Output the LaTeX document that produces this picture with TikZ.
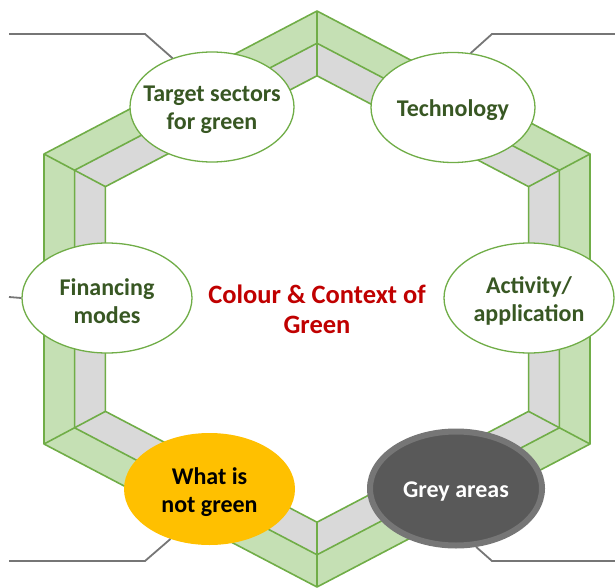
\documentclass[tikz,border=0pt]{standalone}
\usepackage{fontspec}
\setmainfont{Carlito}
\usetikzlibrary{shapes.geometric}
\definecolor{hxgreen}{RGB}{112,173,71}
\definecolor{hxlight}{RGB}{197,224,180}
\definecolor{hxgrey}{RGB}{217,217,217}
\definecolor{hxdark}{RGB}{56,87,35}
\definecolor{hxred}{RGB}{192,0,0}
\definecolor{hxyellow}{RGB}{255,192,0}
\definecolor{hxslate}{RGB}{89,89,89}
\definecolor{hxline}{RGB}{118,118,118}
\begin{document}
\begin{tikzpicture}[x=1pt, y=-1pt,
  edge/.style={hxgreen, line width=1.6pt, line join=round},
  conn/.style={hxline, line width=1.8pt},
  oval/.style={ellipse, draw=hxgreen, fill=white, line width=1.3pt,
    minimum width=164pt, minimum height=110pt},
  lbl/.style={font=\fontsize{24}{28}\selectfont\bfseries, align=center, text=hxdark, yshift=-3pt}]
\useasboundingbox (0,0) rectangle (615,588);
% Hexagon frame: outer, middle and inner rings
\foreach \s/\hx in {1/o, 0.888/m, 0.775/i} {
  \coordinate (\hx1) at (317, {299-288*\s});
  \coordinate (\hx2) at ({317+273*\s}, {299-145*\s});
  \coordinate (\hx3) at ({317+273*\s}, {299+145*\s});
  \coordinate (\hx4) at (317, {299+288*\s});
  \coordinate (\hx5) at ({317-273*\s}, {299+145*\s});
  \coordinate (\hx6) at ({317-273*\s}, {299-145*\s});
}
\fill[hxlight] (o1) -- (o2) -- (o3) -- (o4) -- (o5) -- (o6) -- cycle;
\fill[hxgrey] (m1) -- (m2) -- (m3) -- (m4) -- (m5) -- (m6) -- cycle;
\fill[white] (i1) -- (i2) -- (i3) -- (i4) -- (i5) -- (i6) -- cycle;
\foreach \hx in {o, m, i}
  \draw[edge] (\hx1) -- (\hx2) -- (\hx3) -- (\hx4) -- (\hx5) -- (\hx6) -- cycle;
\foreach \k in {1,...,6}
  \draw[edge] (o\k) -- (m\k) -- (i\k);
% Ovals round the frame
\node[oval] (tsec) at (212,107) {};
\node[oval] (tech) at (453,107.5) {};
\node[oval, minimum width=170pt] (fin) at (107,298) {};
\node[oval, minimum width=170pt] (act) at (529,298) {};
\node[ellipse, fill=hxyellow, minimum width=171pt, minimum height=112pt] (notg) at (209.5,489) {};
\node[ellipse, draw=hxline, fill=hxslate, line width=6pt,
      minimum width=172pt, minimum height=114pt] (grey) at (456,488.5) {};
% Texts
\node[lbl] at (tsec) {Target sectors\\for green};
\node[lbl] at (tech) {Technology};
\node[lbl] at (fin) {Financing\\modes};
\node[lbl] at (act) {Activity/\\application};
\node[lbl, text=black] at (notg) {What is\\not green};
\node[lbl, text=white] at (grey) {Grey areas};
\node[font=\fontsize{26.5}{30}\selectfont\bfseries, align=center, text=hxred] (title) at (317,309) {Colour \& Context of\\Green};
% Leader lines
\coordinate (tlbend) at (145,34);
\coordinate (tlend) at (9,34);
\coordinate (trbend) at (492,34);
\coordinate (trend) at (615,34);
\coordinate (mlend) at (9,297);
\coordinate (blbend) at (145,561);
\coordinate (blend) at (9,561);
\coordinate (brbend) at (492,561);
\coordinate (brend) at (615,561);
\draw[conn] (tsec.129) -- (tlbend) -- (tlend);
\draw[conn] (tech.72) -- (trbend) -- (trend);
\draw[conn] (fin.west) -- (mlend);
\draw[conn] (notg.232) -- (blbend) -- (blend);
\draw[conn] (grey.289) -- (brbend) -- (brend);
\end{tikzpicture}
\end{document}
